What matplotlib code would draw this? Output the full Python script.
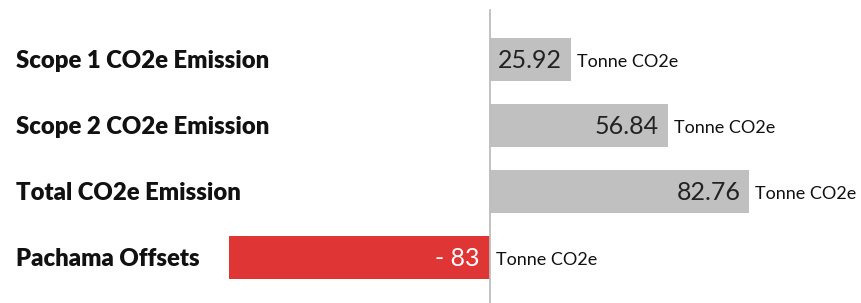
import matplotlib
matplotlib.use('Agg')
import matplotlib.pyplot as plt
import matplotlib.transforms as mtransforms

# ========================== DATA ==========================
CATEGORIES = ['Scope 1 CO2e Emission', 'Scope 2 CO2e Emission',
              'Total CO2e Emission', 'Pachama Offsets']
VALUES = [25.92, 56.84, 82.76, -83]
VALUE_LABELS = ['25.92', '56.84', '82.76', '- 83']
UNIT = 'Tonne CO2e'

# ========================== STYLE ==========================
FONT = ['Lato', 'DejaVu Sans']
GREY_BAR = '#c0c0c0'
RED_BAR = '#e03535'
ZERO_LINE = '#bdbdbd'

W_PX, H_PX, DPI = 861, 303, 100
PX_PER_UNIT = 3.14      # horizontal scale
ZERO_PX = 489.5         # x pixel of the zero line
ROW_PX = 66             # vertical spacing between rows
FIRST_ROW_PX = 59.5     # centre of first row from top
BAR_PX = 43


def draw():
    plt.rcParams['font.family'] = FONT
    fig = plt.figure(figsize=(W_PX / DPI, H_PX / DPI), dpi=DPI)
    ax = fig.add_axes([0, 0, 1, 1])

    ax.set_xlim(-ZERO_PX / PX_PER_UNIT, (W_PX - ZERO_PX) / PX_PER_UNIT)
    ax.set_ylim((H_PX - FIRST_ROW_PX) / ROW_PX, -FIRST_ROW_PX / ROW_PX)

    rows = list(range(len(CATEGORIES)))
    colors = [RED_BAR if v < 0 else GREY_BAR for v in VALUES]
    ax.barh(rows, VALUES, height=BAR_PX / ROW_PX, color=colors, zorder=1)

    ax.axvline(0, ymin=0, ymax=1 - 10 / H_PX, color=ZERO_LINE, linewidth=1.3, zorder=3)

    pad_in = 9 / PX_PER_UNIT
    pad_out = 6 / PX_PER_UNIT
    trans = mtransforms.blended_transform_factory(ax.transAxes, ax.transData)
    for i, (cat, val, lab) in enumerate(zip(CATEGORIES, VALUES, VALUE_LABELS)):
        ax.text(16 / W_PX, i + 0.02, cat, transform=trans, ha='left', va='center',
                fontsize=17.2, fontweight='heavy', color='#111111')
        if val >= 0:
            ax.text(val - pad_in, i + 0.02, lab, ha='right', va='center',
                    fontsize=18, color='#222222')
            ax.text(val + pad_out, i + 0.04, UNIT, ha='left', va='center',
                    fontsize=13, color='#111111')
        else:
            ax.text(-pad_in - 1 / PX_PER_UNIT, i + 0.02, lab, ha='right', va='center',
                    fontsize=18, color='white')
            ax.text(pad_out, i + 0.04, UNIT, ha='left', va='center',
                    fontsize=13, color='#111111')

    ax.axis('off')
    fig.savefig('out.png', dpi=DPI, facecolor='white')


if __name__ == '__main__':
    draw()
